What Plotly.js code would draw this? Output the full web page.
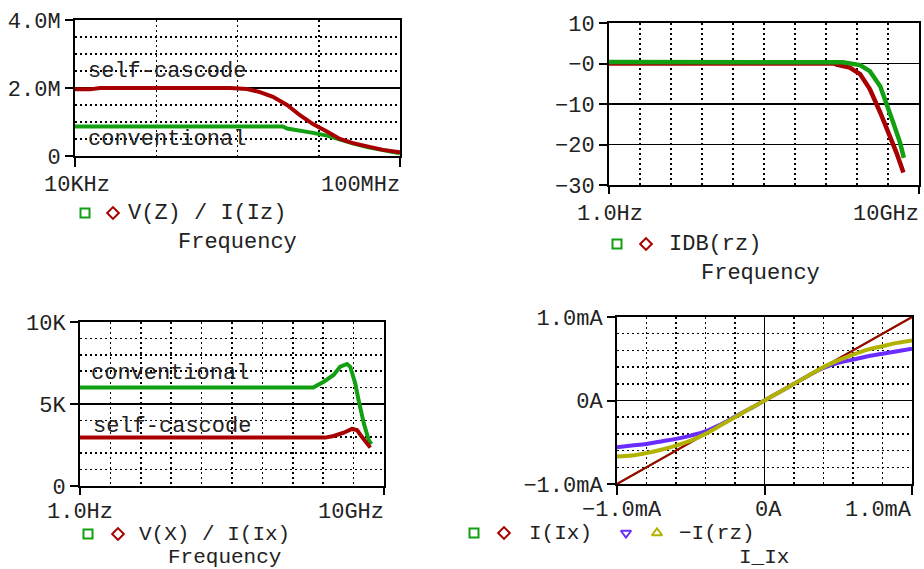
<!DOCTYPE html>
<html><head><meta charset="utf-8">
<script src="https://cdn.plot.ly/plotly-3.0.1.min.js"></script>
<style>html,body{margin:0;padding:0;background:#fff}#chart{width:924px;height:569px}</style>
</head><body><div id="chart"></div>
<script>
// ---------- Panel 1: V(Z)/I(Iz) vs Frequency ----------
const p1FreqConv = [1e4, 3.63e6, 4.07e6, 5.87e6, 8.49e6, 1.26e7, 1.82e7, 2.63e7, 3.93e7, 6.17e7, 1e8];
const p1Conv     = [0.87e6, 0.87e6, 0.81e6, 0.76e6, 0.68e6, 0.60e6, 0.48e6, 0.37e6, 0.26e6, 0.16e6, 0.08e6];
const p1FreqSelf = [1e4, 1.53e4, 2.03e4, 8.1e5, 1.31e6, 1.89e6, 2.73e6, 4.07e6, 5.87e6, 8.49e6, 1.26e7, 1.82e7, 2.63e7, 3.93e7, 6.17e7, 1e8];
const p1Self     = [1.96e6, 1.96e6, 2.0e6, 2.0e6, 1.97e6, 1.88e6, 1.74e6, 1.5e6, 1.2e6, 0.94e6, 0.72e6, 0.5e6, 0.38e6, 0.28e6, 0.18e6, 0.11e6];

// ---------- Panel 2: IDB(rz) vs Frequency ----------
const p2FreqConv = [1, 1e8, 2.0e8, 8.1e8, 1.8e9, 4.2e9, 7.2e9, 1.23e10, 2.14e10, 2.9e10];
const p2Conv     = [0.4, 0.4, 0.3, -0.4, -1.9, -5.6, -9.8, -14.7, -19.6, -23.3];
const p2FreqSelf = [1, 1e8, 1.2e8, 3.5e8, 8.1e8, 1.8e9, 4.2e9, 9.3e9, 1.58e10, 2.8e10];
const p2Self     = [0, 0, -0.3, -1.0, -2.6, -6.3, -12.1, -17.8, -22.0, -26.9];

// ---------- Panel 3: V(X)/I(Ix) vs Frequency ----------
const p3FreqConv = [1, 2.75e8, 6.6e8, 1.5e9, 2.6e9, 4.6e9, 6.0e9, 9.1e9, 1.2e10, 1.86e10, 2.8e10, 3.5e10];
const p3Conv     = [6000, 6000, 6360, 6770, 7270, 7440, 7270, 6260, 5240, 3820, 2800, 2560];
const p3FreqSelf = [1, 7.6e8, 1.5e9, 3.5e9, 6.9e9, 1.05e10, 1.58e10, 2.45e10, 3.2e10];
const p3Self     = [2950, 2950, 3050, 3250, 3480, 3410, 3000, 2600, 2340];

// ---------- Panel 4: currents vs I_Ix (mA) ----------
const p4Ix   = [-1, -0.9, -0.8, -0.7, -0.6, -0.5, -0.4, -0.3, -0.2, -0.1, 0, 0.1, 0.2, 0.3, 0.4, 0.5, 0.6, 0.7, 0.8, 0.9, 1];
const p4IIx  = [-1, -0.9, -0.8, -0.7, -0.6, -0.5, -0.4, -0.3, -0.2, -0.1, 0, 0.1, 0.2, 0.3, 0.4, 0.5, 0.6, 0.7, 0.8, 0.9, 1];
const p4IrzA = [-0.56, -0.54, -0.52, -0.49, -0.46, -0.42, -0.37, -0.29, -0.195, -0.1, 0, 0.1, 0.2, 0.3, 0.39, 0.45, 0.49, 0.53, 0.56, 0.59, 0.62];
const p4IrzB = [-0.67, -0.66, -0.63, -0.59, -0.54, -0.48, -0.40, -0.30, -0.2, -0.1, 0, 0.1, 0.2, 0.3, 0.4, 0.48, 0.55, 0.61, 0.65, 0.69, 0.72];

// ---------- tick labels ----------
const p1YTicks = [0, 2e6, 4e6], p1YText = ['0', '2.0M', '4.0M'];
const p1XTicks = [1e4, 1e8], p1XText = ['10KHz', '100MHz'];
const p2YTicks = [10, 0, -10, -20, -30], p2YText = ['10', '\u22120', '\u221210', '\u221220', '\u221230'];
const freqXText = ['1.0Hz', '10GHz'];
const p3YTicks = [0, 5000, 10000], p3YText = ['0', '5K', '10K'];
const p4Ticks = [-1, 0, 1], p4XText = ['\u22121.0mA', '0A', '1.0mA'], p4YText = ['\u22121.0mA', '0A', '1.0mA'];

const GREEN = '#12a012', RED = '#a80000', BLUE = '#6a2cff', OLIVE = '#b2b200';
const FONT = 'Liberation Mono, Courier New, monospace';
const tickFont = {family: FONT, size: 22, color: '#222'};
const W = 924, H = 569;

function px2dom(a, b, total, flip) {
  return flip ? [1 - b / total, 1 - a / total] : [a / total, b / total];
}
function baseAxis(extra) {
  return Object.assign({
    showline: true, linecolor: 'black', linewidth: 2, mirror: true,
    ticks: 'outside', tickcolor: 'black', tickwidth: 2, ticklen: 8,
    showgrid: true, gridcolor: 'black', gridwidth: 1.5,
    zeroline: false, tickfont: tickFont, fixedrange: true, tickmode: 'array'
  }, extra);
}
const dotMinor = (o) => Object.assign({showgrid: true, gridcolor: 'black', gridwidth: 1.5, griddash: '2px,3px', ticks: ''}, o);

const gridDecades = [];
for (let k = 1; k <= 9; k++) gridDecades.push(Math.pow(10, 1.1 * k));

const traces = [
  {x: p1FreqConv, y: p1Conv, xaxis: 'x', yaxis: 'y', mode: 'lines', line: {color: GREEN, width: 4}},
  {x: p1FreqSelf, y: p1Self, xaxis: 'x', yaxis: 'y', mode: 'lines', line: {color: RED, width: 4}},
  {x: p2FreqSelf, y: p2Self, xaxis: 'x2', yaxis: 'y2', mode: 'lines', line: {color: RED, width: 4.5}},
  {x: p2FreqConv, y: p2Conv, xaxis: 'x2', yaxis: 'y2', mode: 'lines', line: {color: GREEN, width: 4.5}},
  {x: p3FreqConv, y: p3Conv, xaxis: 'x3', yaxis: 'y3', mode: 'lines', line: {color: GREEN, width: 4}},
  {x: p3FreqSelf, y: p3Self, xaxis: 'x3', yaxis: 'y3', mode: 'lines', line: {color: RED, width: 4}},
  {x: p4Ix, y: p4IIx, xaxis: 'x4', yaxis: 'y4', mode: 'lines', line: {color: GREEN, width: 2}},
  {x: p4Ix, y: p4IIx, xaxis: 'x4', yaxis: 'y4', mode: 'lines', line: {color: RED, width: 2}},
  {x: p4Ix, y: p4IrzA, xaxis: 'x4', yaxis: 'y4', mode: 'lines', line: {color: BLUE, width: 4, shape: 'spline'}},
  {x: p4Ix, y: p4IrzB, xaxis: 'x4', yaxis: 'y4', mode: 'lines', line: {color: OLIVE, width: 4, shape: 'spline'}},
];

// legend glyphs (overlay pixel axis x5/y5)
const glyphs = [
  [85, 213, 'square-open', GREEN], [113, 213, 'diamond-open', RED],
  [617, 244, 'square-open', GREEN], [646, 244, 'diamond-open', RED],
  [88, 534, 'square-open', GREEN], [118, 534, 'diamond-open', RED],
  [474, 533, 'square-open', GREEN], [504, 533, 'diamond-open', RED],
  [626, 533, 'triangle-down-open', BLUE], [657, 533, 'triangle-up-open', OLIVE]
];
glyphs.forEach(g => traces.push({
  x: [g[0]], y: [g[1]], xaxis: 'x5', yaxis: 'y5', mode: 'markers', cliponaxis: false,
  marker: {symbol: g[2], size: 9, color: g[3], line: {width: 2, color: g[3]}}
}));

// [x, y, text, xanchor, size]
const labels = [
  [127, 213, 'V(Z) / I(Iz)', 'left', 22], [177, 242, 'Frequency', 'left', 22],
  [668, 244, 'IDB(rz)', 'left', 22], [700, 273, 'Frequency', 'left', 22],
  [138, 534, 'V(X) / I(Ix)', 'left', 21], [167, 557, 'Frequency', 'left', 21],
  [528, 533, 'I(Ix)', 'left', 21], [678, 533, '\u2212I(rz)', 'left', 21], [738, 557, 'I_Ix', 'left', 21],
  [87, 71, 'self-cascode', 'left', 22], [87, 139, 'conventional', 'left', 22],
  [90, 373, 'conventional', 'left', 22], [92, 426, 'self-cascode', 'left', 22],
  // x-axis tick labels (clamped inside the plot width as in the original)
  [77, 185, p1XText[0], 'center', 22], [401, 185, p1XText[1], 'right', 22],
  [610, 214, freqXText[0], 'center', 22], [920, 214, freqXText[1], 'right', 22],
  [80, 512, freqXText[0], 'center', 22], [385, 512, freqXText[1], 'right', 22],
  [622, 510, p4XText[0], 'center', 22], [768, 510, p4XText[1], 'center', 22], [913, 510, p4XText[2], 'right', 22]
];
const annotations = labels.map(l => ({
  x: l[0], y: l[1], xref: 'x5', yref: 'y5', text: l[2], showarrow: false,
  xanchor: l[3], yanchor: 'middle', font: {family: FONT, size: l[4], color: '#222'}, borderpad: 0
}));

// end-of-axis tick marks for frequency axes of panels 2 and 3
const endTicks = [[609, 185], [919, 185], [80, 486], [384, 486]];
const shapes = endTicks.map(t => ({
  type: 'line', xref: 'x5', yref: 'y5', x0: t[0], x1: t[0], y0: t[1], y1: t[1] + 9,
  line: {color: 'black', width: 2}
}));

const layout = {
  width: W, height: H, margin: {l: 0, r: 0, t: 0, b: 0}, showlegend: false,
  paper_bgcolor: 'white', plot_bgcolor: 'rgba(0,0,0,0)', hovermode: false,
  font: {family: FONT, size: 22, color: '#222'},
  xaxis: baseAxis({domain: px2dom(75, 400, W), anchor: 'y', type: 'log', range: [4, 8], ticklen: 9,
    tickvals: p1XTicks, showticklabels: false, showgrid: false,
    minor: dotMinor({tickmode: 'array', tickvals: [1e5, 1e6, 1e7]})}),
  yaxis: baseAxis({domain: px2dom(20, 156, H, true), anchor: 'x', range: [0, 4e6],
    tickvals: p1YTicks, ticktext: p1YText, minor: dotMinor({tickmode: 'linear', tick0: 0, dtick: 0.5e6})}),
  xaxis2: baseAxis({domain: px2dom(609, 919, W), anchor: 'y2', type: 'log', range: [0, 11], ticks: '',
    showticklabels: false, showgrid: false,
    minor: dotMinor({tickmode: 'array', tickvals: gridDecades})}),
  yaxis2: baseAxis({domain: px2dom(23, 185, H, true), anchor: 'x2', range: [-30, 10],
    tickvals: p2YTicks, ticktext: p2YText}),
  xaxis3: baseAxis({domain: px2dom(80, 384, W), anchor: 'y3', type: 'log', range: [0, 11], ticks: '',
    showticklabels: false, showgrid: false,
    minor: dotMinor({tickmode: 'array', tickvals: gridDecades})}),
  yaxis3: baseAxis({domain: px2dom(322, 486, H, true), anchor: 'x3', range: [0, 10000],
    tickvals: p3YTicks, ticktext: p3YText, minor: dotMinor({tickmode: 'linear', tick0: 0, dtick: 1000})}),
  xaxis4: baseAxis({domain: px2dom(617, 912, W), anchor: 'y4', range: [-1, 1], ticklen: 9,
    tickvals: p4Ticks, showticklabels: false,
    minor: dotMinor({tickmode: 'linear', tick0: 0, dtick: 0.2})}),
  yaxis4: baseAxis({domain: px2dom(317, 484, H, true), anchor: 'x4', range: [-1, 1],
    tickvals: p4Ticks, ticktext: p4YText, minor: dotMinor({tickmode: 'linear', tick0: 0, dtick: 0.2})}),
  xaxis5: {domain: [0, 1], range: [0, W], visible: false, anchor: 'y5', fixedrange: true},
  yaxis5: {domain: [0, 1], range: [H, 0], visible: false, anchor: 'x5', fixedrange: true},
  annotations: annotations, shapes: shapes
};

Plotly.newPlot('chart', traces, layout, {staticPlot: true, displayModeBar: false});
</script></body></html>
